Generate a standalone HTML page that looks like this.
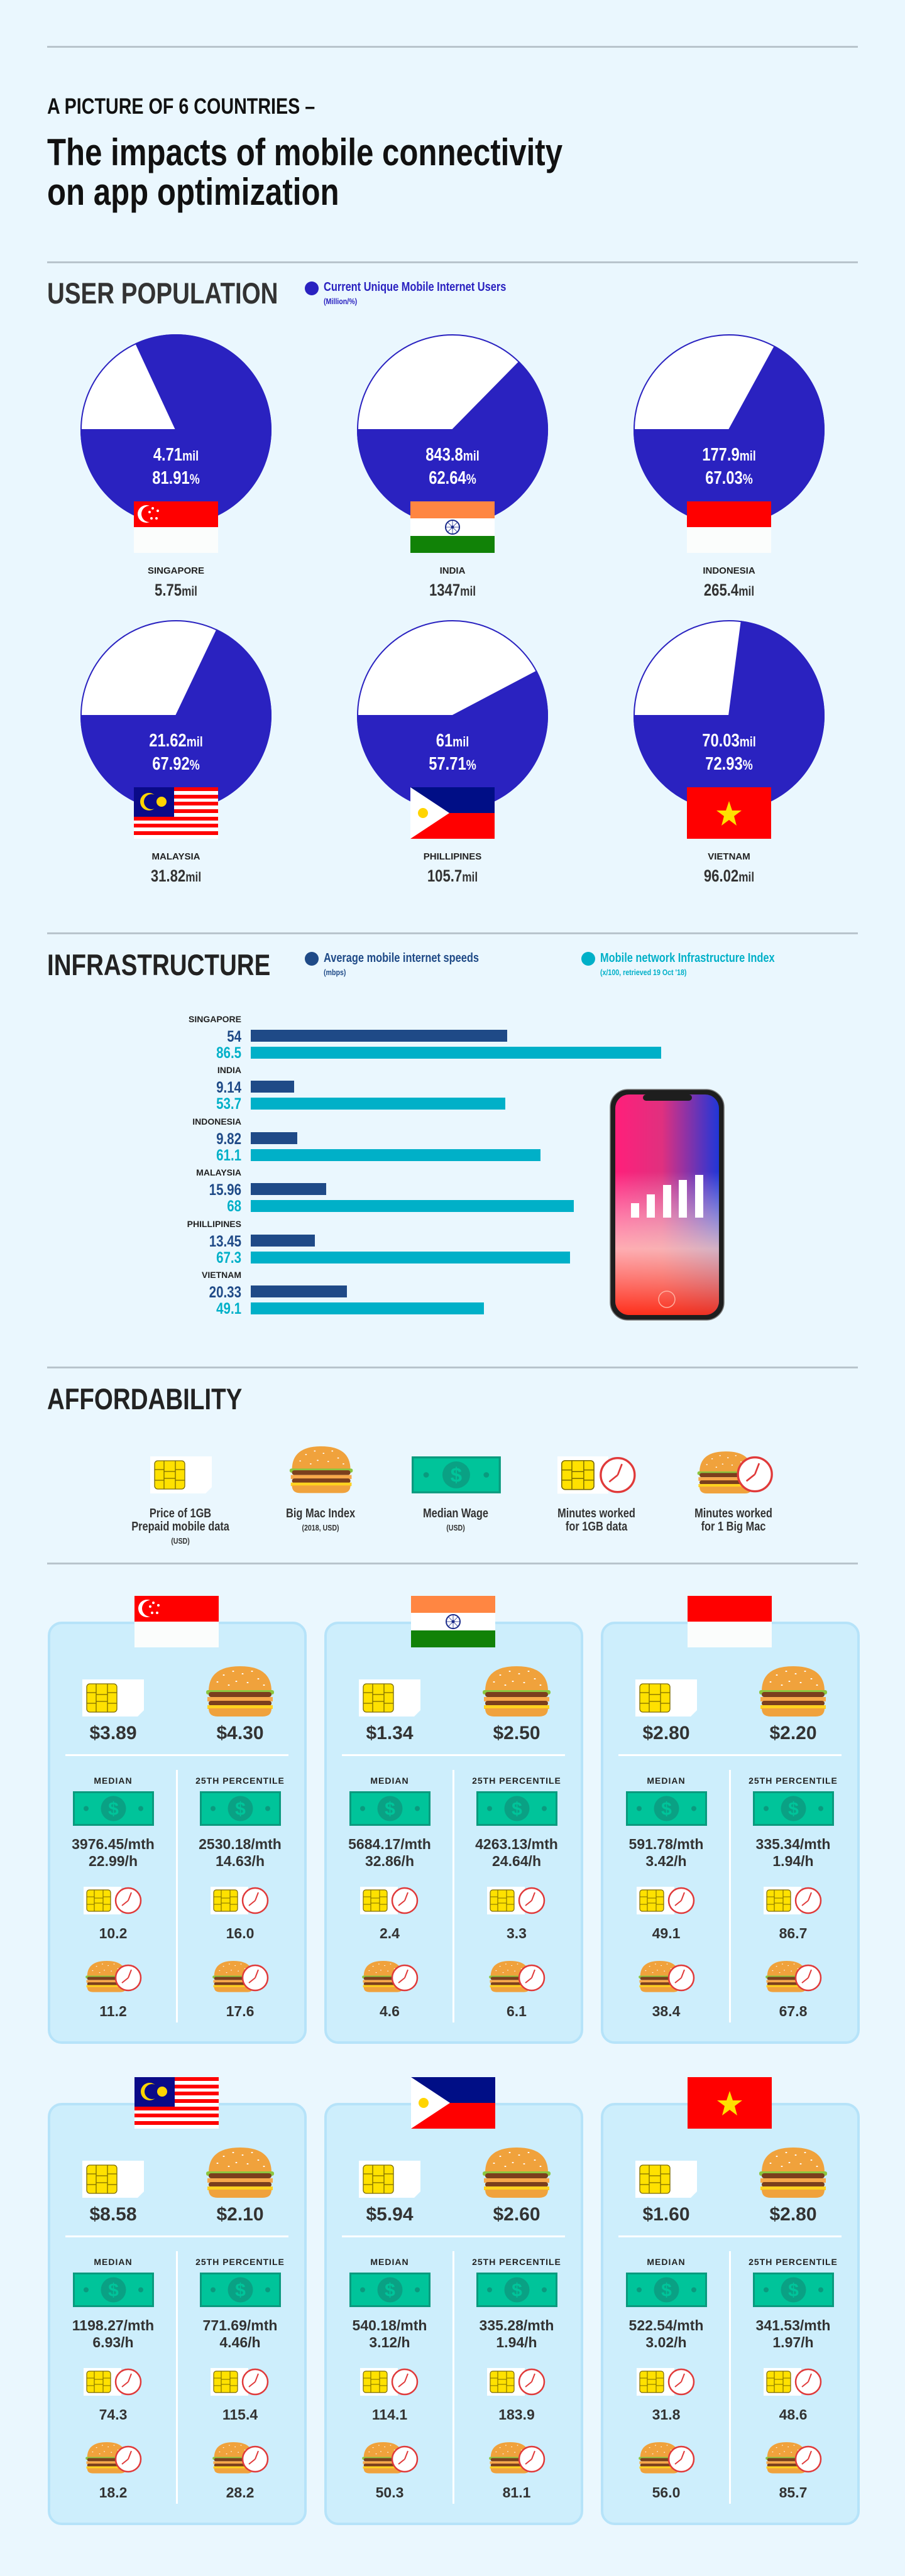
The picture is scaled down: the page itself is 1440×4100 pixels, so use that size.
<!DOCTYPE html>
<html><head><meta charset="utf-8">
<style>
html,body{margin:0;padding:0;background:#eaf7fe;}
svg{display:block;}
.n,.n text{font-family:"Liberation Sans Narrow","Liberation Sans",sans-serif;font-weight:bold;}
.s,.s text{font-family:"Liberation Sans",sans-serif;font-weight:bold;}
.nl text{transform-box:fill-box;transform-origin:0% 50%;transform:scaleX(.82);}
.nm text{transform-box:fill-box;transform-origin:50% 50%;transform:scaleX(.82);}
.nr text{transform-box:fill-box;transform-origin:100% 50%;transform:scaleX(.82);}
</style></head><body>
<svg width="1440" height="4100" viewBox="0 0 1440 4100" xmlns="http://www.w3.org/2000/svg">
<defs>
<g id="fSG"><rect width="134" height="82" fill="#fbfdfc"/><rect width="134" height="41" fill="#ff0000"/>
<circle cx="20" cy="20" r="14" fill="#fff"/><circle cx="25" cy="20" r="13" fill="#ff0000"/>
<g fill="#fff"><circle cx="30" cy="11" r="2"/><circle cx="38" cy="15" r="2"/><circle cx="25" cy="17" r="2"/><circle cx="28" cy="27" r="2"/><circle cx="36" cy="27" r="2"/></g></g>
<g id="fIN"><rect width="134" height="82" fill="#fff"/><rect width="134" height="27" fill="#ff8642"/><rect y="55" width="134" height="27" fill="#118207"/>
<circle cx="67" cy="41" r="11" fill="none" stroke="#1a2a8a" stroke-width="2"/><circle cx="67" cy="41" r="2.5" fill="#1a2a8a"/>
<path d="M56,41H78M67,30V52M59,33L75,49M75,33L59,49" stroke="#1a2a8a" stroke-width="0.8"/></g>
<g id="fID"><rect width="134" height="82" fill="#fbfdfc"/><rect width="134" height="41" fill="#ff0000"/></g>
<g id="fMY"><rect width="134" height="82" fill="#fff"/>
<g fill="#ff0000"><rect y="0" width="134" height="6"/><rect y="12" width="134" height="6"/><rect y="23" width="134" height="6"/><rect y="35" width="134" height="6"/><rect y="47" width="134" height="6"/><rect y="58" width="134" height="6"/><rect y="70" width="134" height="6"/></g>
<rect width="64" height="47" fill="#0a0a88"/><circle cx="24" cy="23" r="14" fill="#ffd400"/><circle cx="28" cy="23" r="12" fill="#0a0a88"/><circle cx="44" cy="23" r="8" fill="#ffd400"/></g>
<g id="fPH"><rect width="134" height="41" fill="#000e86"/><rect y="41" width="134" height="41" fill="#ff0000"/><path d="M0,0L62,41L0,82Z" fill="#fff"/><circle cx="20" cy="41" r="8" fill="#ffd400"/></g>
<g id="fVN"><rect width="134" height="82" fill="#ff0000"/><path d="M67,22L72,37H87L75,46L79,61L67,52L55,61L59,46L47,37H62Z" fill="#ffe000"/></g>

<g id="sim"><path d="M0,0H98V49L88,59H0Z" fill="#fff"/>
<rect x="7" y="7" width="48" height="45" rx="5" fill="#ffe100" stroke="#7a6a00" stroke-width="1.3"/>
<path d="M7,21H22V38H7M55,21H40V38H55M22,7V21M40,7V21M22,52V38M40,52V38M22,24H40V35H22Z" fill="none" stroke="#7a6a00" stroke-width="1.3"/></g>
<g id="burger"><path d="M6,40Q6,0 56,0Q106,0 106,40Z" fill="#f0a23c"/>
<g fill="#fff"><ellipse cx="30" cy="14" rx="1.5" ry="1"/><ellipse cx="45" cy="8" rx="1.5" ry="1"/><ellipse cx="60" cy="12" rx="1.5" ry="1"/><ellipse cx="75" cy="8" rx="1.5" ry="1"/><ellipse cx="85" cy="20" rx="1.5" ry="1"/><ellipse cx="20" cy="25" rx="1.5" ry="1"/><ellipse cx="50" cy="24" rx="1.5" ry="1"/><ellipse cx="68" cy="26" rx="1.5" ry="1"/><ellipse cx="94" cy="30" rx="1.5" ry="1"/><ellipse cx="38" cy="30" rx="1.5" ry="1"/></g>
<rect x="2" y="38" width="108" height="7" rx="3" fill="#8cc63f"/>
<rect x="6" y="41" width="100" height="8" rx="4" fill="#7b3f1d"/>
<rect x="4" y="49" width="104" height="7" fill="#f7a84a"/>
<rect x="6" y="55" width="100" height="8" rx="4" fill="#7b3f1d"/>
<rect x="4" y="62" width="104" height="6" fill="#ffd21f"/>
<path d="M6,67H106Q106,80 92,80H20Q6,80 6,67Z" fill="#f0a23c"/></g>
<g id="money"><rect x="1.5" y="1.5" width="126" height="52" fill="#00c49a" stroke="#0a9a7e" stroke-width="3"/>
<circle cx="64.5" cy="27.5" r="20" fill="#0aa184"/><text x="64.5" y="38" text-anchor="middle" class="s" font-size="30" fill="#00c49a">$</text>
<circle cx="21" cy="27.5" r="4" fill="#0a9a7e"/><circle cx="108" cy="27.5" r="4" fill="#0a9a7e"/></g>
<g id="clock"><circle r="20" fill="#fff" stroke="#e03a3a" stroke-width="2.5"/><path d="M0,0L5,-13M0,0L-10,8" stroke="#e03a3a" stroke-width="2"/></g>
<g id="simclock"><rect x="0" y="0" width="60" height="44" fill="#fff"/>
<rect x="5" y="5" width="38" height="34" rx="4" fill="#ffe100" stroke="#7a6a00" stroke-width="1.2"/>
<path d="M5,16H17V28H5M43,16H31V28H43M17,5V16M31,5V16M17,39V28M31,39V28M17,18H31V26H17Z" fill="none" stroke="#7a6a00" stroke-width="1.1"/>
<use href="#clock" transform="translate(71,22)"/></g>
<g id="burgclock"><use href="#burger" transform="translate(0,6) scale(0.62)"/><use href="#clock" transform="translate(69,33)"/></g>

<g id="card"><rect x="2" y="2" width="408" height="668" rx="20" fill="#cdeefc" stroke="#b6e3f9" stroke-width="4"/>
<use href="#sim" x="55" y="92"/><use href="#burger" x="250" y="71"/>
<rect x="28" y="211" width="355" height="3" fill="#fff"/><rect x="204" y="236" width="3" height="402" fill="#fff"/>
<text x="104" y="258" text-anchor="middle" class="s" font-size="14" letter-spacing="1" fill="#222">MEDIAN</text>
<text x="306" y="258" text-anchor="middle" class="s" font-size="14" letter-spacing="1" fill="#222">25TH PERCENTILE</text>
<use href="#money" x="40" y="270"/><use href="#money" x="242" y="270"/>
<use href="#simclock" x="57" y="422"/><use href="#simclock" x="259" y="422"/>
<use href="#burgclock" x="59" y="534"/><use href="#burgclock" x="261" y="534"/></g>
<linearGradient id="scr" x1="0" y1="0" x2="1" y2="0"><stop offset="0" stop-color="#ff1f7a"/><stop offset="0.45" stop-color="#e0307f"/><stop offset="1" stop-color="#2036d8"/></linearGradient>
<linearGradient id="scr2" x1="0" y1="0" x2="0" y2="1"><stop offset="0.35" stop-color="#fff" stop-opacity="0"/><stop offset="0.7" stop-color="#ffd0c0" stop-opacity="0.8"/><stop offset="1" stop-color="#ff3010" stop-opacity="0.9"/></linearGradient>
</defs>

<rect width="1440" height="4100" fill="#eaf7fe"/>
<g fill="#b8c4cc"><rect x="75" y="73" width="1290" height="3"/><rect x="75" y="416" width="1290" height="3"/><rect x="75" y="1484" width="1290" height="3"/><rect x="75" y="2175" width="1290" height="3"/><rect x="75" y="2487" width="1290" height="3"/></g>

<g class="n nl">
<text x="75" y="181" font-size="35" fill="#111">A PICTURE OF 6 COUNTRIES –</text>
<text x="75" y="263" font-size="60" fill="#111">The impacts of mobile connectivity</text>
<text x="75" y="326" font-size="60" fill="#111">on app optimization</text>
<text x="75" y="483" font-size="47" fill="#333">USER POPULATION</text>
<text x="515" y="463" font-size="20" fill="#2a22c0">Current Unique Mobile Internet Users</text>
<text x="515" y="484" font-size="13" font-weight="normal" fill="#2a22c0">(Million/%)</text>
<text x="75" y="1552" font-size="47" fill="#222">INFRASTRUCTURE</text>
<text x="515" y="1531" font-size="20" fill="#1f4a87">Average mobile internet speeds</text>
<text x="515" y="1552" font-size="13" font-weight="normal" fill="#1f4a87">(mbps)</text>
<text x="955" y="1531" font-size="20" fill="#00b0c8">Mobile network Infrastructure Index</text>
<text x="955" y="1552" font-size="13" font-weight="normal" fill="#00b0c8">(x/100, retrieved 19 Oct '18)</text>
<text x="75" y="2243" font-size="47" fill="#222">AFFORDABILITY</text>
</g>
<circle cx="496" cy="459" r="11" fill="#2a22c0"/>
<circle cx="496" cy="1526" r="11" fill="#1f4a87"/>
<circle cx="936" cy="1526" r="11" fill="#00b0c8"/>

<!-- pies -->
<g stroke="#2a22c0" stroke-width="2">
<circle cx="280" cy="684" r="151" fill="#fff"/><path d="M280,684L216.4,547A151,151 0 1 1 129,684Z" fill="#2a22c0"/>
<circle cx="720" cy="684" r="151" fill="#fff"/><path d="M720,684L825.8,576.3A151,151 0 1 1 569,684Z" fill="#2a22c0"/>
<circle cx="1160" cy="684" r="151" fill="#fff"/><path d="M1160,684L1232.5,551.5A151,151 0 1 1 1009,684Z" fill="#2a22c0"/>
<circle cx="280" cy="1139" r="151" fill="#fff"/><path d="M280,1139L345,1002.7A151,151 0 1 1 129,1139Z" fill="#2a22c0"/>
<circle cx="720" cy="1139" r="151" fill="#fff"/><path d="M720,1139L853.6,1068.6A151,151 0 1 1 569,1139Z" fill="#2a22c0"/>
<circle cx="1160" cy="1139" r="151" fill="#fff"/><path d="M1160,1139L1179.7,989.3A151,151 0 1 1 1009,1139Z" fill="#2a22c0"/>
</g>
<g class="n nm" fill="#fff" text-anchor="middle" font-size="29">
<text x="280" y="733">4.71<tspan font-size="22">mil</tspan></text><text x="280" y="770">81.91<tspan font-size="22">%</tspan></text>
<text x="720" y="733">843.8<tspan font-size="22">mil</tspan></text><text x="720" y="770">62.64<tspan font-size="22">%</tspan></text>
<text x="1160" y="733">177.9<tspan font-size="22">mil</tspan></text><text x="1160" y="770">67.03<tspan font-size="22">%</tspan></text>
<text x="280" y="1188">21.62<tspan font-size="22">mil</tspan></text><text x="280" y="1225">67.92<tspan font-size="22">%</tspan></text>
<text x="720" y="1188">61<tspan font-size="22">mil</tspan></text><text x="720" y="1225">57.71<tspan font-size="22">%</tspan></text>
<text x="1160" y="1188">70.03<tspan font-size="22">mil</tspan></text><text x="1160" y="1225">72.93<tspan font-size="22">%</tspan></text>
</g>
<use href="#fSG" x="213" y="798"/><use href="#fIN" x="653" y="798"/><use href="#fID" x="1093" y="798"/>
<use href="#fMY" x="213" y="1253"/><use href="#fPH" x="653" y="1253"/><use href="#fVN" x="1093" y="1253"/>
<g class="s" font-size="15" text-anchor="middle" fill="#222">
<text x="280" y="913">SINGAPORE</text><text x="720" y="913">INDIA</text><text x="1160" y="913">INDONESIA</text>
<text x="280" y="1368">MALAYSIA</text><text x="720" y="1368">PHILLIPINES</text><text x="1160" y="1368">VIETNAM</text></g>
<g class="n nm" font-size="27" text-anchor="middle" fill="#333">
<text x="280" y="948">5.75<tspan font-size="21">mil</tspan></text><text x="720" y="948">1347<tspan font-size="21">mil</tspan></text><text x="1160" y="948">265.4<tspan font-size="21">mil</tspan></text>
<text x="280" y="1403">31.82<tspan font-size="21">mil</tspan></text><text x="720" y="1403">105.7<tspan font-size="21">mil</tspan></text><text x="1160" y="1403">96.02<tspan font-size="21">mil</tspan></text></g>

<!-- infrastructure -->
<g class="s" font-size="14" text-anchor="end" fill="#222">
<text x="384" y="1627">SINGAPORE</text><text x="384" y="1708">INDIA</text><text x="384" y="1790">INDONESIA</text>
<text x="384" y="1871">MALAYSIA</text><text x="384" y="1953">PHILLIPINES</text><text x="384" y="2034">VIETNAM</text></g>
<g class="n nr" font-size="25" text-anchor="end">
<text x="384" y="1658" fill="#1f4a87">54</text><text x="384" y="1684" fill="#00b0c8">86.5</text>
<text x="384" y="1739" fill="#1f4a87">9.14</text><text x="384" y="1765" fill="#00b0c8">53.7</text>
<text x="384" y="1821" fill="#1f4a87">9.82</text><text x="384" y="1847" fill="#00b0c8">61.1</text>
<text x="384" y="1902" fill="#1f4a87">15.96</text><text x="384" y="1928" fill="#00b0c8">68</text>
<text x="384" y="1984" fill="#1f4a87">13.45</text><text x="384" y="2010" fill="#00b0c8">67.3</text>
<text x="384" y="2065" fill="#1f4a87">20.33</text><text x="384" y="2091" fill="#00b0c8">49.1</text></g>
<g fill="#1f4a87">
<rect x="399" y="1639" width="408" height="19"/><rect x="399" y="1720" width="69" height="19"/><rect x="399" y="1802" width="74" height="19"/>
<rect x="399" y="1883" width="120" height="19"/><rect x="399" y="1965" width="102" height="19"/><rect x="399" y="2046" width="153" height="19"/></g>
<g fill="#00b0c8">
<rect x="399" y="1666" width="653" height="19"/><rect x="399" y="1747" width="405" height="19"/><rect x="399" y="1829" width="461" height="19"/>
<rect x="399" y="1910" width="514" height="19"/><rect x="399" y="1992" width="508" height="19"/><rect x="399" y="2073" width="371" height="19"/></g>

<!-- phone -->
<rect x="971" y="1734" width="181" height="367" rx="28" fill="#1e1e1e" stroke="#777" stroke-width="1.5"/>
<rect x="979" y="1742" width="165" height="351" rx="22" fill="url(#scr)"/>
<rect x="979" y="1742" width="165" height="351" rx="22" fill="url(#scr2)"/>
<rect x="1023" y="1742" width="78" height="10" rx="5" fill="#1e1e1e"/>
<g fill="#fff"><rect x="1004" y="1915" width="13" height="23"/><rect x="1029" y="1901" width="13" height="37"/><rect x="1055" y="1886" width="13" height="52"/><rect x="1080" y="1878" width="13" height="60"/><rect x="1106" y="1870" width="13" height="68"/></g>
<circle cx="1061" cy="2068" r="13" fill="none" stroke="#ffb0a0" stroke-width="1.5"/>

<!-- affordability -->
<use href="#sim" x="239" y="2318"/>
<use href="#burger" transform="translate(459,2302) scale(0.93)"/>
<use href="#money" transform="translate(655,2318) scale(1.1,1.07)"/>
<use href="#simclock" transform="translate(887,2318) scale(1.35)"/>
<use href="#burgclock" transform="translate(1108,2302) scale(1.35)"/>
<g class="n nm" font-size="20" text-anchor="middle" fill="#333">
<text x="287" y="2415">Price of 1GB</text><text x="287" y="2436">Prepaid mobile data</text><text x="287" y="2457" font-size="13" font-weight="normal">(USD)</text>
<text x="510" y="2415">Big Mac Index</text><text x="510" y="2436" font-size="13" font-weight="normal">(2018, USD)</text>
<text x="725" y="2415">Median Wage</text><text x="725" y="2436" font-size="13" font-weight="normal">(USD)</text>
<text x="949" y="2415">Minutes worked</text><text x="949" y="2436">for 1GB data</text>
<text x="1167" y="2415">Minutes worked</text><text x="1167" y="2436">for 1 Big Mac</text></g>

<!-- cards -->
<g class="s" fill="#333" text-anchor="middle">
<g transform="translate(76,2581)"><use href="#card"/><use href="#fSG" x="138" y="-41"/>
<text x="104" y="187" font-size="30">$3.89</text><text x="306" y="187" font-size="30">$4.30</text>
<text x="104" y="362" font-size="23">3976.45/mth</text><text x="104" y="389" font-size="23">22.99/h</text>
<text x="306" y="362" font-size="23">2530.18/mth</text><text x="306" y="389" font-size="23">14.63/h</text>
<text x="104" y="504" font-size="23">10.2</text><text x="306" y="504" font-size="23">16.0</text>
<text x="104" y="628" font-size="23">11.2</text><text x="306" y="628" font-size="23">17.6</text></g>
<g transform="translate(516,2581)"><use href="#card"/><use href="#fIN" x="138" y="-41"/>
<text x="104" y="187" font-size="30">$1.34</text><text x="306" y="187" font-size="30">$2.50</text>
<text x="104" y="362" font-size="23">5684.17/mth</text><text x="104" y="389" font-size="23">32.86/h</text>
<text x="306" y="362" font-size="23">4263.13/mth</text><text x="306" y="389" font-size="23">24.64/h</text>
<text x="104" y="504" font-size="23">2.4</text><text x="306" y="504" font-size="23">3.3</text>
<text x="104" y="628" font-size="23">4.6</text><text x="306" y="628" font-size="23">6.1</text></g>
<g transform="translate(956,2581)"><use href="#card"/><use href="#fID" x="138" y="-41"/>
<text x="104" y="187" font-size="30">$2.80</text><text x="306" y="187" font-size="30">$2.20</text>
<text x="104" y="362" font-size="23">591.78/mth</text><text x="104" y="389" font-size="23">3.42/h</text>
<text x="306" y="362" font-size="23">335.34/mth</text><text x="306" y="389" font-size="23">1.94/h</text>
<text x="104" y="504" font-size="23">49.1</text><text x="306" y="504" font-size="23">86.7</text>
<text x="104" y="628" font-size="23">38.4</text><text x="306" y="628" font-size="23">67.8</text></g>
<g transform="translate(76,3347)"><use href="#card"/><use href="#fMY" x="138" y="-41"/>
<text x="104" y="187" font-size="30">$8.58</text><text x="306" y="187" font-size="30">$2.10</text>
<text x="104" y="362" font-size="23">1198.27/mth</text><text x="104" y="389" font-size="23">6.93/h</text>
<text x="306" y="362" font-size="23">771.69/mth</text><text x="306" y="389" font-size="23">4.46/h</text>
<text x="104" y="504" font-size="23">74.3</text><text x="306" y="504" font-size="23">115.4</text>
<text x="104" y="628" font-size="23">18.2</text><text x="306" y="628" font-size="23">28.2</text></g>
<g transform="translate(516,3347)"><use href="#card"/><use href="#fPH" x="138" y="-41"/>
<text x="104" y="187" font-size="30">$5.94</text><text x="306" y="187" font-size="30">$2.60</text>
<text x="104" y="362" font-size="23">540.18/mth</text><text x="104" y="389" font-size="23">3.12/h</text>
<text x="306" y="362" font-size="23">335.28/mth</text><text x="306" y="389" font-size="23">1.94/h</text>
<text x="104" y="504" font-size="23">114.1</text><text x="306" y="504" font-size="23">183.9</text>
<text x="104" y="628" font-size="23">50.3</text><text x="306" y="628" font-size="23">81.1</text></g>
<g transform="translate(956,3347)"><use href="#card"/><use href="#fVN" x="138" y="-41"/>
<text x="104" y="187" font-size="30">$1.60</text><text x="306" y="187" font-size="30">$2.80</text>
<text x="104" y="362" font-size="23">522.54/mth</text><text x="104" y="389" font-size="23">3.02/h</text>
<text x="306" y="362" font-size="23">341.53/mth</text><text x="306" y="389" font-size="23">1.97/h</text>
<text x="104" y="504" font-size="23">31.8</text><text x="306" y="504" font-size="23">48.6</text>
<text x="104" y="628" font-size="23">56.0</text><text x="306" y="628" font-size="23">85.7</text></g>
</g>
</svg>
</body></html>
